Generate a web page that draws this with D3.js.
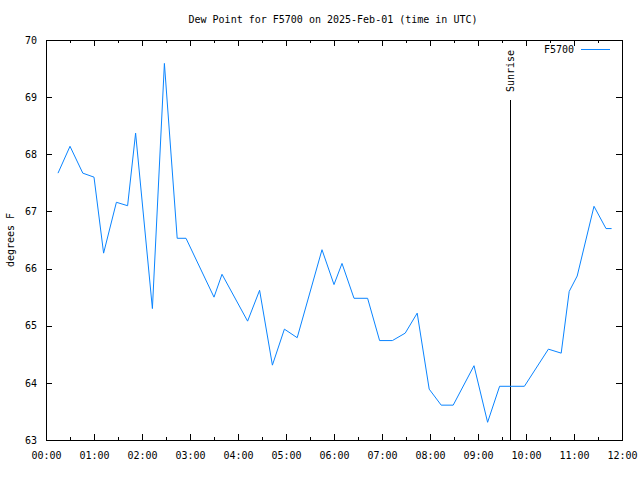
<!DOCTYPE html>
<html>
<head>
<meta charset="utf-8">
<script src="https://cdn.jsdelivr.net/npm/d3@7"></script>
<style>
  body { margin: 0; background: #fff; }
  svg { display: block; }
  text { font-family: "DejaVu Sans Mono", "Liberation Mono", monospace; fill: #000; }
</style>
</head>
<body>
<svg id="chart" width="640" height="480"></svg>
<script>
// ---- data ----
const times = ["00:15","00:30","00:46","01:00","01:12","01:28","01:42","01:52","02:13","02:28","02:44","02:55",
  "03:30","03:40","04:12","04:27","04:43","04:58","05:14","05:45","06:00","06:10","06:25","06:42","06:57",
  "07:13","07:29","07:44","07:59","08:14","08:29","08:55","09:12","09:27","09:58","10:28","10:44","10:54",
  "11:04","11:25","11:40","11:47"];
const dewPoint = [67.67,68.14,67.67,67.60,66.27,67.16,67.10,68.37,65.30,69.59,66.53,66.53,
  65.50,65.90,65.08,65.62,64.31,64.94,64.79,66.33,65.72,66.09,65.48,65.48,64.74,
  64.74,64.87,65.22,63.89,63.61,63.61,64.30,63.31,63.94,63.94,64.59,64.52,65.60,
  65.87,67.09,66.70,66.70];
const xTickLabels = ["00:00","01:00","02:00","03:00","04:00","05:00","06:00","07:00","08:00","09:00","10:00","11:00","12:00"];
const yTicks = [63,64,65,66,67,68,69,70];
const sunriseTime = "09:40";
const seriesName = "F5700";
const title = "Dew Point for F5700 on 2025-Feb-01 (time in UTC)";
const yLabel = "degrees F";

// ---- layout ----
const L = 46, R = 622, T = 40, B = 440;
const color = "#0a84ff";
const toMin = s => { const [h, m] = s.split(":").map(Number); return h * 60 + m; };

const svg = d3.select("#chart");
const x = d3.scaleLinear().domain([0, 720]).range([L, R]);
const y = d3.scaleLinear().domain([63, 70]).range([B, T]);

const majors = xTickLabels.map(toMin);
const minors = d3.range(30, 720, 60);

// axes (ticks inward)
const fmt = v => xTickLabels[majors.indexOf(v)];
const gB = svg.append("g").attr("transform", `translate(0,${B})`)
  .call(d3.axisBottom(x).tickValues(majors).tickFormat(fmt).tickSizeInner(-6).tickSizeOuter(0).tickPadding(12));
const gBm = svg.append("g").attr("transform", `translate(0,${B})`)
  .call(d3.axisBottom(x).tickValues(minors).tickFormat("").tickSizeInner(-3).tickSizeOuter(0));
const gT = svg.append("g").attr("transform", `translate(0,${T})`)
  .call(d3.axisTop(x).tickValues(majors).tickFormat("").tickSizeInner(-6).tickSizeOuter(0));
const gTm = svg.append("g").attr("transform", `translate(0,${T})`)
  .call(d3.axisTop(x).tickValues(minors).tickFormat("").tickSizeInner(-3).tickSizeOuter(0));
const gL = svg.append("g").attr("transform", `translate(${L},0)`)
  .call(d3.axisLeft(y).tickValues(yTicks).tickFormat(d3.format("d")).tickSizeInner(-6).tickSizeOuter(0).tickPadding(9));
const gR = svg.append("g").attr("transform", `translate(${R},0)`)
  .call(d3.axisRight(y).tickValues(yTicks).tickFormat("").tickSizeInner(-6).tickSizeOuter(0));

[gB, gBm, gT, gTm, gL, gR].forEach(g => {
  g.select(".domain").remove();
  g.selectAll("line").attr("stroke", "#000").attr("shape-rendering", "crispEdges");
  g.selectAll("text").attr("font-size", 10).style("font-family", '"DejaVu Sans Mono", monospace');
});

// frame
svg.append("rect").attr("x", L + 0.5).attr("y", T + 0.5).attr("width", R - L).attr("height", B - T)
  .attr("fill", "none").attr("stroke", "#000").attr("shape-rendering", "crispEdges");

// sunrise line
const sx = x(toMin(sunriseTime));
svg.append("line").attr("x1", Math.round(sx) + 0.5).attr("x2", Math.round(sx) + 0.5)
  .attr("y1", B).attr("y2", 100).attr("stroke", "#000").attr("shape-rendering", "crispEdges");
svg.append("text").attr("transform", `translate(${sx + 4},92) rotate(-90)`)
  .attr("font-size", 10).text("Sunrise");

// data line
const data = times.map((t, i) => ({ t: toMin(t), v: dewPoint[i] }));
svg.append("path").datum(data)
  .attr("d", d3.line().x(d => x(d.t)).y(d => y(d.v)))
  .attr("fill", "none").attr("stroke", color).attr("stroke-width", 1);

// legend
svg.append("text").attr("x", 574).attr("y", 53).attr("text-anchor", "end").attr("font-size", 10).text(seriesName);
svg.append("line").attr("x1", 581).attr("x2", 610).attr("y1", 49.5).attr("y2", 49.5).attr("stroke", color);

// title & y label
svg.append("text").attr("x", 333).attr("y", 23).attr("text-anchor", "middle").attr("font-size", 10).text(title);
svg.append("text").attr("transform", "translate(14,240) rotate(-90)").attr("text-anchor", "middle")
  .attr("font-size", 10).text(yLabel);
</script>
</body>
</html>
